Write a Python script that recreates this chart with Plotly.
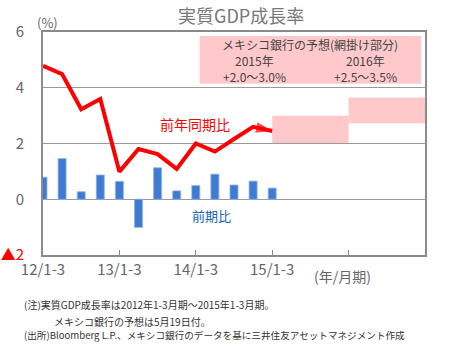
import plotly.graph_objects as go

# ---- data ----
quarters = ["12/1-3", "12/4-6", "12/7-9", "12/10-12",
            "13/1-3", "13/4-6", "13/7-9", "13/10-12",
            "14/1-3", "14/4-6", "14/7-9", "14/10-12",
            "15/1-3"]
qoq = [0.79, 1.46, 0.27, 0.87, 0.64, -1.01, 1.13, 0.30, 0.49, 0.90, 0.51, 0.65, 0.40]
yoy = [4.79, 4.49, 3.23, 3.60, 0.99, 1.80, 1.62, 1.09, 2.00, 1.71, 2.16, 2.60, 2.45]

forecast_start = [12, 16]
forecast_end = [16, 20]
forecast_low = [2.0, 2.73]
forecast_high = [3.0, 3.65]

x_tickvals = [0, 4, 8, 12, 16]
x_ticktext = ["12/1-3", "13/1-3", "14/1-3", "15/1-3", ""]
y_tickvals = [-2, 0, 2, 4, 6]
y_ticktext = ["<span style='color:#ff0000'>▲2</span>", "0", "2", "4", "6"]

notes = [
    "(注)実質GDP成長率は2012年1-3月期〜2015年1-3月期。",
    "　　　メキシコ銀行の予想は5月19日付。",
    "(出所)Bloomberg L.P.、メキシコ銀行のデータを基に三井住友アセットマネジメント作成",
]
note_sizes = [10, 10, 9.6]
note_shifts = [-49.5, -66.5, -79.5]

FONT = "Noto Sans CJK JP"
idx = list(range(len(quarters)))

fig = go.Figure()

fig.add_trace(go.Bar(
    x=idx, y=qoq, width=0.42,
    marker=dict(color="#3f7bd3", line=dict(color="#8fb3ea", width=0.8)),
    showlegend=False,
))

fig.add_trace(go.Scatter(
    x=idx, y=yoy, mode="lines+markers",
    line=dict(color="#ff0000", width=4),
    marker=dict(symbol="arrow", angleref="previous", color="#ff0000",
                size=[0] * (len(yoy) - 1) + [17], line=dict(width=0)),
    showlegend=False,
))

shapes = []
for x0, x1, lo, hi in zip(forecast_start, forecast_end, forecast_low, forecast_high):
    shapes.append(dict(type="rect", xref="x", yref="y", x0=x0, x1=x1, y0=lo, y1=hi,
                       fillcolor="#ffc9cc", line=dict(width=0), layer="below"))
# annotation box background
shapes.append(dict(type="rect", xref="x", yref="y", x0=8.2, x1=19.8, y0=4.14, y1=5.86,
                   fillcolor="#ffc9cc", line=dict(width=0), layer="below"))

def ann(text, x, y, size, color, xref="x", yref="y", **kw):
    d = dict(text=text, xref=xref, yref=yref, x=x, y=y, showarrow=False,
             xanchor="center", yanchor="middle",
             font=dict(size=size, color=color, family=FONT))
    d.update(kw)
    return d

annotations = [
    ann("実質GDP成長率", 0.518, 1.0, 18, "#777777", xref="paper", yref="paper", yshift=17),
    ann("(%)", 0.0, 1.0, 13, "#666666", xref="paper", yref="paper", xshift=4, yshift=10),
    ann("メキシコ銀行の予想(網掛け部分)", 14.0, 5.55, 12, "#444444"),
    ann("2015年", 11.05, 4.98, 12, "#444444"),
    ann("+2.0〜3.0%", 11.05, 4.40, 12, "#444444"),
    ann("2016年", 16.9, 4.98, 12, "#444444"),
    ann("+2.5〜3.5%", 16.9, 4.40, 12, "#444444"),
    ann("前年同期比", 7.95, 2.7, 14, "#ff0000"),
    ann("前期比", 8.8, -0.6, 13, "#1565c0"),
    ann("(年/月期)", 15.7, 0, 14, "#666666", yref="paper", yshift=-21),
]
for line, sz, ys in zip(notes, note_sizes, note_shifts):
    annotations.append(ann(line, 0, 0, sz, "#333333", xref="paper", yref="paper",
                           xanchor="left", xshift=-21, yshift=ys, align="left"))

fig.update_layout(
    width=460, height=361,
    margin=dict(l=43, r=35, t=32, b=105.5, autoexpand=False),
    paper_bgcolor="white", plot_bgcolor="white",
    font=dict(family=FONT, color="#666666"),
    shapes=shapes, annotations=annotations,
    bargap=0.5,
)
fig.update_xaxes(
    range=[0, 20], tickvals=x_tickvals, ticktext=x_ticktext, automargin=False,
    ticks="inside", ticklen=5, tickcolor="#888888", tickwidth=1,
    showgrid=False, zeroline=False,
    showline=True, linecolor="#8a8a8a", linewidth=2, mirror=True,
    tickfont=dict(size=15, color="#666666", family=FONT),
)
fig.update_yaxes(
    range=[-2, 6], tickvals=y_tickvals, ticktext=y_ticktext, automargin=False,
    ticks="", showgrid=True, gridcolor="#9a9a9a", gridwidth=1,
    zeroline=True, zerolinecolor="#9a9a9a", zerolinewidth=1,
    showline=True, linecolor="#8a8a8a", linewidth=2, mirror=True,
    ticklabelstandoff=14,
    tickfont=dict(size=15, color="#666666", family=FONT),
)

fig.write_html("out.html", config={"displayModeBar": False},
               post_script="document.body.style.margin='0';")
